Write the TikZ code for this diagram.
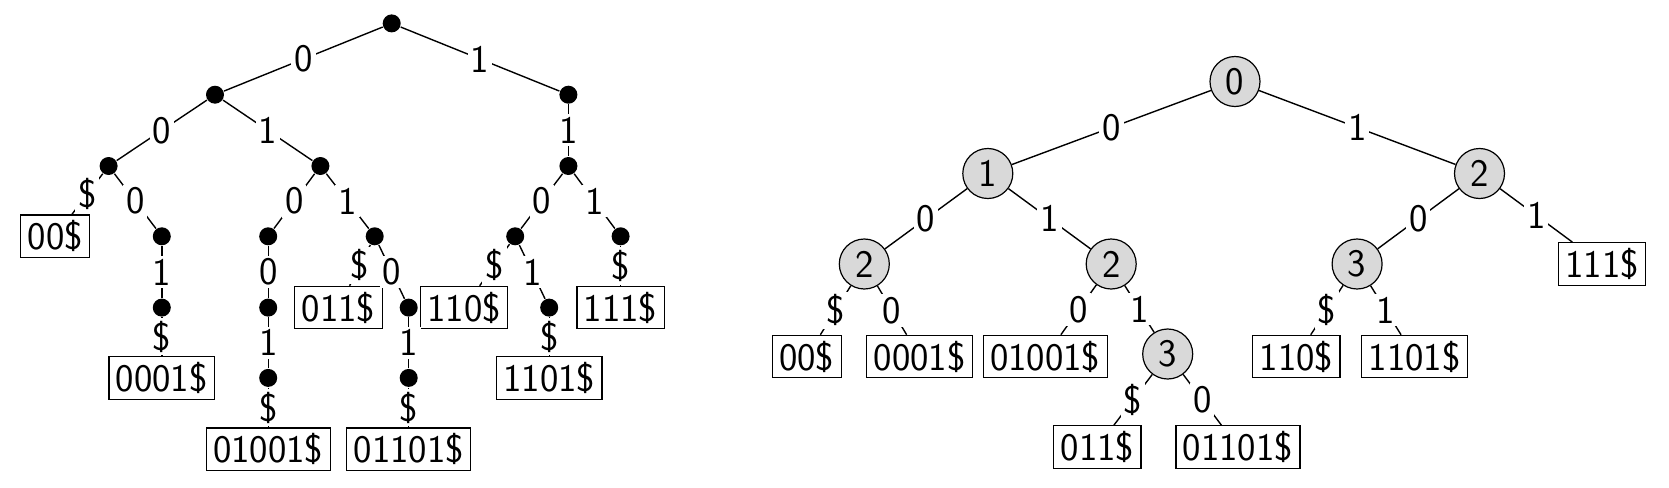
\documentclass[tikz,border=0pt]{standalone}
\tikzset{
  bullet/.style={circle, fill=black, inner sep=0pt, minimum size=9pt},
  leaf/.style={draw, rectangle, inner xsep=3.5pt, inner ysep=2.8pt, line width=0.6pt},
  cnode/.style={circle, draw, fill=black!15, inner sep=0pt, minimum size=25pt, line width=0.6pt},
  elabel/.style={fill=white, inner sep=1.5pt, midway}
}
\begin{document}
\begin{tikzpicture}[y=0.5pt, x=0.5pt, yscale=-1, line width=0.7pt, font=\sffamily\fontsize{19.5}{23}\selectfont]
\useasboundingbox (0,0) rectangle (1669,487);
\node[bullet] (r) at (391.7,23.4) {};
\node[bullet] (a) at (215,94.7) {};
\node[bullet] (b) at (568.4,94.7) {};
\node[bullet] (a0) at (108.6,166) {};
\node[bullet] (a1) at (320.4,166) {};
\node[bullet] (b1) at (568.4,166) {};
\node[leaf] (s00) at (55.3,236.3) {00\$};
\node[bullet] (a00) at (161.8,236.3) {};
\node[bullet] (a10) at (268.2,236.3) {};
\node[bullet] (a11) at (374.7,236.3) {};
\node[bullet] (b10) at (515.2,236.3) {};
\node[bullet] (b11) at (620.6,236.3) {};
\node[bullet] (a001) at (161.8,307.6) {};
\node[bullet] (a100) at (268.2,307.6) {};
\node[leaf] (s011) at (338.5,307.6) {011\$};
\node[bullet] (a110) at (408.7,307.6) {};
\node[leaf] (s110) at (464,307.6) {110\$};
\node[bullet] (b101) at (549.2,307.6) {};
\node[leaf] (s111) at (620.6,307.6) {111\$};
\node[leaf] (s0001) at (161.8,377.9) {0001\$};
\node[bullet] (a1001) at (268.2,377.9) {};
\node[bullet] (a1101) at (408.7,377.9) {};
\node[leaf] (s1101) at (549.2,377.9) {1101\$};
\node[leaf] (s01001) at (268.2,449.2) {01001\$};
\node[leaf] (s01101) at (408.7,449.2) {01101\$};

\draw (r) -- node[elabel] {0} (a);
\draw (r) -- node[elabel] {1} (b);
\draw (a) -- node[elabel] {0} (a0);
\draw (a) -- node[elabel] {1} (a1);
\draw (b) -- node[elabel] {1} (b1);
\draw (a0) -- node[elabel] {\$} (s00);
\draw (a0) -- node[elabel] {0} (a00);
\draw (a00) -- node[elabel] {1} (a001);
\draw (a001) -- node[elabel] {\$} (s0001);
\draw (a1) -- node[elabel] {0} (a10);
\draw (a10) -- node[elabel] {0} (a100);
\draw (a100) -- node[elabel] {1} (a1001);
\draw (a1001) -- node[elabel] {\$} (s01001);
\draw (a1) -- node[elabel] {1} (a11);
\draw (a11) -- node[elabel] {\$} (s011);
\draw (a11) -- node[elabel] {0} (a110);
\draw (a110) -- node[elabel] {1} (a1101);
\draw (a1101) -- node[elabel] {\$} (s01101);
\draw (b1) -- node[elabel] {0} (b10);
\draw (b10) -- node[elabel] {\$} (s110);
\draw (b10) -- node[elabel] {1} (b101);
\draw (b101) -- node[elabel] {\$} (s1101);
\draw (b1) -- node[elabel] {1} (b11);
\draw (b11) -- node[elabel] {\$} (s111);

\node[cnode] (t) at (1235,81.5) {0};
\node[cnode] (t0) at (987.8,173.5) {1};
\node[cnode] (t1) at (1479.5,173.5) {2};
\node[cnode] (t00) at (864.3,264) {2};
\node[cnode] (t01) at (1111.2,264) {2};
\node[cnode] (t10) at (1357.1,264) {3};
\node[leaf] (u111) at (1602,264) {111\$};
\node[leaf] (u00) at (806.8,356.6) {00\$};
\node[leaf] (u0001) at (919.7,356.6) {0001\$};
\node[leaf] (u01001) at (1045.3,356.6) {01001\$};
\node[cnode] (t011) at (1167.7,354) {3};
\node[leaf] (u110) at (1296.4,356.6) {110\$};
\node[leaf] (u1101) at (1414.6,356.6) {1101\$};
\node[leaf] (u011) at (1097.4,447) {011\$};
\node[leaf] (u01101) at (1237.9,447) {01101\$};

\draw (t) -- node[elabel] {0} (t0);
\draw (t) -- node[elabel] {1} (t1);
\draw (t0) -- node[elabel] {0} (t00);
\draw (t0) -- node[elabel] {1} (t01);
\draw (t1) -- node[elabel] {0} (t10);
\draw (t1) -- node[elabel] {1} (u111);
\draw (t00) -- node[elabel] {\$} (u00);
\draw (t00) -- node[elabel] {0} (u0001);
\draw (t01) -- node[elabel] {0} (u01001);
\draw (t01) -- node[elabel] {1} (t011);
\draw (t011) -- node[elabel] {\$} (u011);
\draw (t011) -- node[elabel] {0} (u01101);
\draw (t10) -- node[elabel] {\$} (u110);
\draw (t10) -- node[elabel] {1} (u1101);
\end{tikzpicture}
\end{document}
